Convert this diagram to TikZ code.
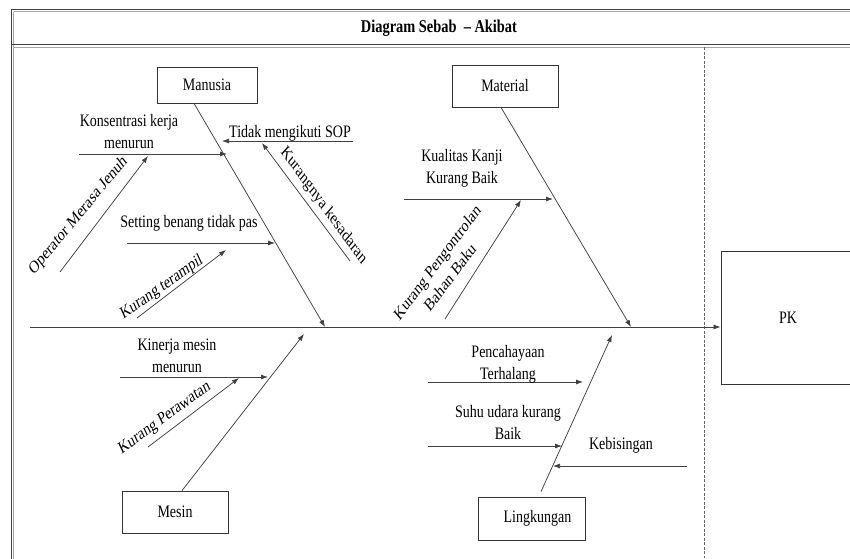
\documentclass[tikz,border=0pt]{standalone}
\usepackage{fontspec}
\setmainfont{Liberation Serif}[FakeStretch=0.8]
\newfontfamily\plainserif{Liberation Serif}
\usetikzlibrary{arrows.meta,calc}
\begin{document}
\begin{tikzpicture}[x=1pt,y=-1pt,
  ln/.style={draw=black!75, line width=0.75pt},
  arr/.style={ln, -{Latex[length=7pt,width=5pt]}},
  lbl/.style={font=\fontsize{17.5}{22}\selectfont, align=center, inner sep=0pt},
  rlbl/.style={font=\plainserif\fontsize{17.5}{22}\selectfont, align=center, inner sep=0pt, xscale=0.8},
  cat/.style={draw=black!80, line width=0.8pt, font=\fontsize{17.5}{22}\selectfont, inner sep=0pt}]
\useasboundingbox (0,0) rectangle (850,558);
\fill[white] (0,0) rectangle (850,558);
% frame
\draw[black!75, line width=1pt] (11,9) rectangle (900,600);
\draw[black!35, line width=0.8pt] (13.5,11.5) -- (900,11.5);
\draw[black!35, line width=0.8pt] (13.5,11.5) -- (13.5,600);
\draw[black!75, line width=1pt] (11,44) -- (900,44);
\draw[black!35, line width=0.8pt] (13.5,47) -- (900,47);
\draw[black!60, line width=0.8pt, dash pattern=on 3pt off 1.5pt] (704,47) -- (704,558);
\node[font=\fontsize{18}{22}\selectfont\bfseries, inner sep=0pt] (title) at (439,28) {Diagram Sebab~ – Akibat};
% category boxes
\node[cat, minimum width=100pt, minimum height=36pt] (manusia) at (207,85) {Manusia};
\node[cat, minimum width=106pt, minimum height=42pt] (material) at (505,86) {Material};
\node[cat, minimum width=106pt, minimum height=42pt] (mesin) at (175,512) {Mesin};
\node[cat, minimum width=107pt, minimum height=43pt] (ling) at (531.5,518.5) {\hspace*{12pt}Lingkungan};
\node[cat, minimum width=134pt, minimum height=133pt] (pk) at (788,317.5) {PK};
% spine
\coordinate (sp0) at (30,327);
\draw[arr] (sp0) -- (sp0 -| pk.west);
% bones
\coordinate (mT) at (325,327);
\coordinate (matT) at (631,327);
\coordinate (mesT) at (304,334);
\coordinate (linT) at (612,335);
\draw[arr] ($(manusia.south)+(-13,0)$) -- (mT);
\draw[arr] ($(material.south)+(-4,0)$) -- (matT);
\draw[arr] ($(mesin.north)+(7,0)$) -- (mesT);
\draw[arr] ($(ling.north)+(9.5,-5)$) -- (linT);
% sub-cause coordinates
\coordinate (a1s) at (79,154);  \coordinate (a1e) at (227,154);
\coordinate (a2s) at (60,272);  \coordinate (a2e) at (148,156);
\coordinate (a3s) at (353,141); \coordinate (a3e) at (222,141);
\coordinate (a4s) at (350,261); \coordinate (a4e) at (262,143);
\coordinate (a5s) at (127,243); \coordinate (a5e) at (275,243);
\coordinate (a6s) at (137,318); \coordinate (a6e) at (226,250);
\coordinate (b1s) at (404,199); \coordinate (b1e) at (553,199);
\coordinate (b2s) at (445,319); \coordinate (b2e) at (521,200);
\coordinate (c1s) at (120,377); \coordinate (c1e) at (268,377);
\coordinate (c2s) at (148,447); \coordinate (c2e) at (239,378);
\coordinate (d1s) at (428,382); \coordinate (d1e) at (583,382);
\coordinate (d2s) at (428,446); \coordinate (d2e) at (562,446);
\coordinate (d3s) at (687,466); \coordinate (d3e) at (553,466);
\foreach \p in {a1,a2,a3,a4,a5,a6,b1,b2,c1,c2,d1,d2,d3}
  \draw[arr] (\p s) -- (\p e);
% labels
\node[lbl] (l1) at (129,132) {Konsentrasi kerja\\menurun};
\node[rlbl, rotate=44] (l2) at (78.4,215.8) {Operator Merasa Jenuh};
\node[lbl] (l3) at (290,133) {Tidak mengikuti SOP};
\node[rlbl, rotate=-48] (l4) at (323.6,205.8) {Kurangnya kesadaran};
\node[lbl] (l5) at (189,223.5) {Setting benang tidak pas};
\node[rlbl, rotate=29.5] (l6) at (161.8,287.4) {Kurang terampil};
\node[lbl] (l7) at (462,168.5) {Kualitas Kanji\\Kurang Baik};
\node[rlbl, rotate=47] (l8) at (443.5,269.5) {Kurang Pengontrolan\\Bahan Baku};
\node[lbl] (l9) at (177,355.5) {Kinerja mesin\\menurun};
\node[rlbl, rotate=30.5] (l10) at (164.8,418.4) {Kurang Perawatan};
\node[lbl] (l11) at (508,364.5) {Pencahayaan\\Terhalang};
\node[lbl] (l12) at (508,423) {Suhu udara kurang\\Baik};
\node[lbl] (l13) at (621,445) {Kebisingan};
\end{tikzpicture}
\end{document}
